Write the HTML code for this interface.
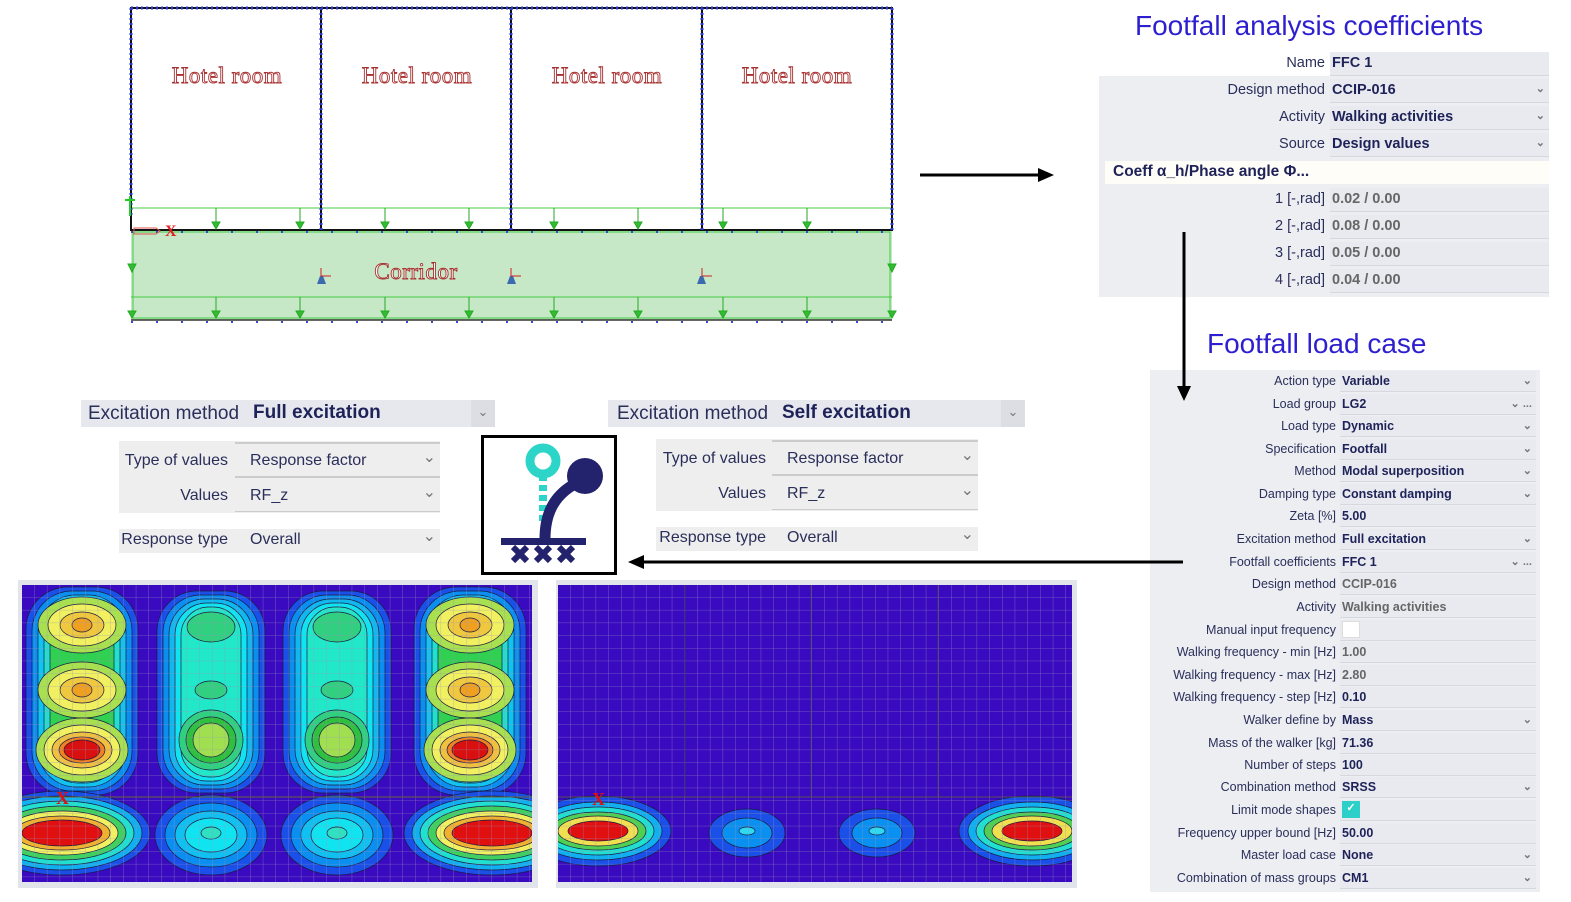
<!DOCTYPE html>
<html><head><meta charset="utf-8"><style>
*{margin:0;padding:0;box-sizing:border-box}
body{width:1571px;height:902px;background:#fff;position:relative;overflow:hidden;font-family:"Liberation Sans",sans-serif}
.a{position:absolute}
.t{position:absolute;font-family:"Liberation Sans",sans-serif;color:#2d1fd0;font-size:28px;white-space:nowrap}
.p{position:absolute;background:#eceef2}
.row{position:absolute;left:0;right:0;font-size:14.5px;color:#2a2f5a;white-space:nowrap}
.row .l{position:absolute;text-align:right}
.row .v{position:absolute;font-weight:bold;color:#1e2258;border-bottom:1px solid #d6d8de;background:#e8eaef}
.g{color:#666 !important}
.chev{position:absolute;right:4px;color:#777;font-size:11px}
.ex{position:absolute;background:#e6e8ee;font-size:19px;color:#2a2f5a;white-space:nowrap}
.sb{position:absolute;background:#eeeeee;font-size:16px;color:#2a2f5a;white-space:nowrap}
</style></head><body>

<!-- plan -->
<svg class="a" style="left:0;top:0" width="900" height="330">
<rect x="131" y="230" width="761" height="90" fill="#c6e8c6"/>
<rect x="131" y="208" width="761" height="22" fill="none" stroke="#44cc44" stroke-width="1"/>
<line x1="131" y1="297" x2="892" y2="297" stroke="#44cc44"/>
<rect x="133" y="232" width="757" height="86" fill="none" stroke="#44cc44"/>
<g stroke="#111" stroke-width="2" fill="none">
<rect x="131" y="8" width="761" height="222"/>
<line x1="321" y1="8" x2="321" y2="230"/><line x1="511" y1="8" x2="511" y2="230"/><line x1="702" y1="8" x2="702" y2="230"/>
<line x1="131" y1="320" x2="892" y2="320" stroke="#333" stroke-width="1.5"/>
</g>
<g stroke="#2a3ad0" stroke-width="3" stroke-dasharray="2 3" fill="none">
<line x1="131" y1="8" x2="892" y2="8"/><line x1="131" y1="8" x2="131" y2="215"/><line x1="321" y1="8" x2="321" y2="230"/><line x1="511" y1="8" x2="511" y2="230"/><line x1="702" y1="8" x2="702" y2="230"/><line x1="892" y1="8" x2="892" y2="230"/>
</g>
<g stroke="#3a4ad0" stroke-width="2" stroke-dasharray="2 23" fill="none"><line x1="131" y1="232" x2="892" y2="232"/><line x1="131" y1="322" x2="892" y2="322"/></g>
<g stroke="#22aa22" fill="#33bb33">
<line x1="216" y1="208" x2="216" y2="224"/><polygon points="212,222 220,222 216,229"/>
<line x1="300" y1="208" x2="300" y2="224"/><polygon points="296,222 304,222 300,229"/>
<line x1="385" y1="208" x2="385" y2="224"/><polygon points="381,222 389,222 385,229"/>
<line x1="469" y1="208" x2="469" y2="224"/><polygon points="465,222 473,222 469,229"/>
<line x1="554" y1="208" x2="554" y2="224"/><polygon points="550,222 558,222 554,229"/>
<line x1="638" y1="208" x2="638" y2="224"/><polygon points="634,222 642,222 638,229"/>
<line x1="723" y1="208" x2="723" y2="224"/><polygon points="719,222 727,222 723,229"/>
<line x1="807" y1="208" x2="807" y2="224"/><polygon points="803,222 811,222 807,229"/>
<line x1="216" y1="297" x2="216" y2="313"/><polygon points="212,311 220,311 216,318"/>
<line x1="300" y1="297" x2="300" y2="313"/><polygon points="296,311 304,311 300,318"/>
<line x1="385" y1="297" x2="385" y2="313"/><polygon points="381,311 389,311 385,318"/>
<line x1="469" y1="297" x2="469" y2="313"/><polygon points="465,311 473,311 469,318"/>
<line x1="554" y1="297" x2="554" y2="313"/><polygon points="550,311 558,311 554,318"/>
<line x1="638" y1="297" x2="638" y2="313"/><polygon points="634,311 642,311 638,318"/>
<line x1="723" y1="297" x2="723" y2="313"/><polygon points="719,311 727,311 723,318"/>
<line x1="807" y1="297" x2="807" y2="313"/><polygon points="803,311 811,311 807,318"/>
<polygon points="128,264 136,264 132,272"/><polygon points="888,264 896,264 892,272"/>
<polygon points="128,311 136,311 132,318"/><polygon points="888,311 896,311 892,318"/>
</g>
<path d="M125 200 h10 M130 196 v20" stroke="#22cc22" stroke-width="2"/>
<path d="M134 228 h22 l4 3 -4 3 h-22z" fill="none" stroke="#e05050"/>
<text x="165" y="236" fill="#e02020" font-family="Liberation Serif" font-weight="bold" font-size="16">X</text>
<g fill="#3a6ab0"><path d="M317 284 l3 -8 h3 l3 8z"/><path d="M507 284 l3 -8 h3 l3 8z"/><path d="M697 284 l3 -8 h3 l3 8z"/></g>
<g stroke="#d02020"><path d="M321 276 v-8 M321 276 h10"/><path d="M511 276 v-8 M511 276 h10"/><path d="M702 276 v-8 M702 276 h10"/></g>
<g font-family="Liberation Serif" font-size="23" fill="#fff" stroke="#a83232" stroke-width="0.9" text-anchor="middle" letter-spacing="0.5">
<text x="227" y="83">Hotel room</text><text x="417" y="83">Hotel room</text><text x="607" y="83">Hotel room</text><text x="797" y="83">Hotel room</text>
<text x="416" y="279">Corridor</text></g>
</svg>

<div class="t" style="left:1135px;top:10px">Footfall analysis coefficients</div>
<div class="t" style="left:1207px;top:328px">Footfall load case</div>

<!-- panel 1 -->
<div class="p" style="left:1099px;top:52px;width:450px;height:245px">
<div class="a" style="left:0;top:0;width:231px;height:24px;background:#fff"></div>
<div class="row" style="top:0;height:24px"><span class="l" style="right:224px;top:3px">Name</span><span class="v" style="left:231px;width:219px;height:24px;padding:3px 2px">FFC 1</span></div>
<div class="row" style="top:27px;height:24px"><span class="l" style="right:224px;top:3px">Design method</span><span class="v" style="left:231px;width:219px;height:24px;padding:3px 2px">CCIP-016<span class="chev">&#8964;</span></span></div>
<div class="row" style="top:54px;height:24px"><span class="l" style="right:224px;top:3px">Activity</span><span class="v" style="left:231px;width:219px;height:24px;padding:3px 2px">Walking activities<span class="chev">&#8964;</span></span></div>
<div class="row" style="top:81px;height:24px"><span class="l" style="right:224px;top:3px">Source</span><span class="v" style="left:231px;width:219px;height:24px;padding:3px 2px">Design values<span class="chev">&#8964;</span></span></div>
<div class="a" style="left:6px;top:109px;width:444px;height:23px;background:#fffdf8;font-weight:bold;font-size:15.5px;color:#1e2258;padding:2px 8px">Coeff α_h/Phase angle Φ...</div>
<div class="row" style="top:136px;height:24px"><span class="l" style="right:224px;top:3px">1 [-,rad]</span><span class="v g" style="left:231px;width:219px;height:24px;padding:3px 2px">0.02 / 0.00</span></div>
<div class="row" style="top:163px;height:24px"><span class="l" style="right:224px;top:3px">2 [-,rad]</span><span class="v g" style="left:231px;width:219px;height:24px;padding:3px 2px">0.08 / 0.00</span></div>
<div class="row" style="top:190px;height:24px"><span class="l" style="right:224px;top:3px">3 [-,rad]</span><span class="v g" style="left:231px;width:219px;height:24px;padding:3px 2px">0.05 / 0.00</span></div>
<div class="row" style="top:217px;height:24px"><span class="l" style="right:224px;top:3px">4 [-,rad]</span><span class="v g" style="left:231px;width:219px;height:24px;padding:3px 2px">0.04 / 0.00</span></div>
</div>

<!-- panel 2 -->
<div class="p" id="p2" style="left:1150px;top:370px;width:390px;height:522px;font-size:12.5px">
<style>#p2 .row{font-size:12.5px;height:21px}#p2 .l{right:204px;top:3px}#p2 .v{left:190px;width:196px;height:21px;padding:3px 2px}</style>
<div class="row" style="top:1px"><span class="l">Action type</span><span class="v">Variable<span class="chev">&#8964;</span></span></div>
<div class="row" style="top:24px"><span class="l">Load group</span><span class="v">LG2<span class="chev">&#8964; ...</span></span></div>
<div class="row" style="top:46px"><span class="l">Load type</span><span class="v">Dynamic<span class="chev">&#8964;</span></span></div>
<div class="row" style="top:69px"><span class="l">Specification</span><span class="v">Footfall<span class="chev">&#8964;</span></span></div>
<div class="row" style="top:91px"><span class="l">Method</span><span class="v">Modal superposition<span class="chev">&#8964;</span></span></div>
<div class="row" style="top:114px"><span class="l">Damping type</span><span class="v">Constant damping<span class="chev">&#8964;</span></span></div>
<div class="row" style="top:136px"><span class="l">Zeta [%]</span><span class="v">5.00</span></div>
<div class="row" style="top:159px"><span class="l">Excitation method</span><span class="v">Full excitation<span class="chev">&#8964;</span></span></div>
<div class="row" style="top:182px"><span class="l">Footfall coefficients</span><span class="v">FFC 1<span class="chev">&#8964; ...</span></span></div>
<div class="row" style="top:204px"><span class="l">Design method</span><span class="v g">CCIP-016</span></div>
<div class="row" style="top:227px"><span class="l">Activity</span><span class="v g">Walking activities</span></div>
<div class="row" style="top:250px"><span class="l">Manual input frequency</span><span class="v"><span class="a" style="left:2px;top:1px;width:18px;height:17px;background:#fff;border:1px solid #ddd"></span></span></div>
<div class="row" style="top:272px"><span class="l">Walking frequency - min [Hz]</span><span class="v g">1.00</span></div>
<div class="row" style="top:295px"><span class="l">Walking frequency - max [Hz]</span><span class="v g">2.80</span></div>
<div class="row" style="top:317px"><span class="l">Walking frequency - step [Hz]</span><span class="v">0.10</span></div>
<div class="row" style="top:340px"><span class="l">Walker define by</span><span class="v">Mass<span class="chev">&#8964;</span></span></div>
<div class="row" style="top:363px"><span class="l">Mass of the walker [kg]</span><span class="v">71.36</span></div>
<div class="row" style="top:385px"><span class="l">Number of steps</span><span class="v">100</span></div>
<div class="row" style="top:407px"><span class="l">Combination method</span><span class="v">SRSS<span class="chev">&#8964;</span></span></div>
<div class="row" style="top:430px"><span class="l">Limit mode shapes</span><span class="v"><span class="a" style="left:2px;top:1px;width:18px;height:17px;background:#2dd0c8;color:#fff;font-size:11px;text-align:center">✓</span></span></div>
<div class="row" style="top:453px"><span class="l">Frequency upper bound [Hz]</span><span class="v">50.00</span></div>
<div class="row" style="top:475px"><span class="l">Master load case</span><span class="v">None<span class="chev">&#8964;</span></span></div>
<div class="row" style="top:498px"><span class="l">Combination of mass groups</span><span class="v">CM1<span class="chev">&#8964;</span></span></div>
</div>

<!-- arrows (on top) -->
<svg class="a" style="left:0;top:0;z-index:5" width="1571" height="902">
<line x1="920" y1="175" x2="1040" y2="175" stroke="#000" stroke-width="3"/><polygon points="1038,168 1054,175 1038,182"/>
<line x1="1184" y1="232" x2="1184" y2="388" stroke="#000" stroke-width="3"/><polygon points="1177,386 1191,386 1184,401"/>
<line x1="1183" y1="562" x2="642" y2="562" stroke="#000" stroke-width="3"/><polygon points="644,555 628,562 644,569"/>
</svg>

<!-- excitation panels -->
<div class="ex" style="left:81px;top:400px;width:414px;height:27px"><span class="a" style="left:7px;top:3px">Excitation method</span><b class="a" style="left:172px;top:2px;color:#1e2258">Full excitation</b><span class="a" style="right:0;top:0;width:24px;height:27px;background:#dcdee4;color:#777;font-size:13px;text-align:center;line-height:24px">&#8964;</span></div>
<div class="sb" style="left:119px;top:441px;width:321px;height:72px"><span class="a" style="right:212px;top:11px">Type of values</span><span class="a" style="left:131px;top:11px">Response factor</span><span class="a" style="left:116px;top:1px;width:205px;border-top:2px solid #ccc"></span><span class="a" style="left:116px;top:35px;width:205px;border-top:2px solid #ccc"></span><span class="a" style="left:116px;top:70px;width:205px;border-top:1px solid #ccc"></span><span class="a" style="right:212px;top:46px">Values</span><span class="a" style="left:131px;top:46px">RF_z</span><span class="a" style="right:4px;top:6px;color:#777">&#8964;</span><span class="a" style="right:4px;top:41px;color:#777">&#8964;</span></div>
<div class="sb" style="left:119px;top:529px;width:321px;height:24px"><span class="a" style="right:212px;top:2px">Response type</span><span class="a" style="left:131px;top:2px">Overall</span><span class="a" style="right:4px;top:-3px;color:#777">&#8964;</span></div>

<div class="ex" style="left:608px;top:400px;width:417px;height:27px"><span class="a" style="left:9px;top:3px">Excitation method</span><b class="a" style="left:174px;top:2px;color:#1e2258">Self excitation</b><span class="a" style="right:0;top:0;width:24px;height:27px;background:#dcdee4;color:#777;font-size:13px;text-align:center;line-height:24px">&#8964;</span></div>
<div class="sb" style="left:656px;top:439px;width:322px;height:72px"><span class="a" style="right:212px;top:11px">Type of values</span><span class="a" style="left:131px;top:11px">Response factor</span><span class="a" style="left:116px;top:1px;width:206px;border-top:2px solid #ccc"></span><span class="a" style="left:116px;top:35px;width:206px;border-top:2px solid #ccc"></span><span class="a" style="left:116px;top:70px;width:206px;border-top:1px solid #ccc"></span><span class="a" style="right:212px;top:46px">Values</span><span class="a" style="left:131px;top:46px">RF_z</span><span class="a" style="right:4px;top:6px;color:#777">&#8964;</span><span class="a" style="right:4px;top:41px;color:#777">&#8964;</span></div>
<div class="sb" style="left:656px;top:527px;width:322px;height:24px"><span class="a" style="right:212px;top:2px">Response type</span><span class="a" style="left:131px;top:2px">Overall</span><span class="a" style="right:4px;top:-3px;color:#777">&#8964;</span></div>

<!-- icon -->
<svg class="a" style="left:481px;top:435px" width="136" height="140">
<rect x="1.5" y="1.5" width="133" height="137" fill="#fff" stroke="#000" stroke-width="3"/>
<circle cx="62" cy="26" r="13" fill="none" stroke="#2dd4c8" stroke-width="9"/>
<rect x="58" y="41" width="8" height="5" fill="#2dd4c8"/><rect x="58" y="50" width="8" height="6" fill="#2dd4c8"/><rect x="58" y="60" width="8" height="6" fill="#2dd4c8"/><rect x="58" y="70" width="8" height="6" fill="#2dd4c8"/><rect x="58" y="80" width="8" height="6" fill="#2dd4c8"/>
<circle cx="104" cy="41" r="18" fill="#23226c"/>
<path d="M64 104 C64 80 72 62 92 50" fill="none" stroke="#23226c" stroke-width="11"/>
<rect x="20" y="103" width="85" height="7" fill="#23226c"/>
<g stroke="#23226c" stroke-width="6"><path d="M32 112 l14 14 M46 112 l-14 14 M55 112 l14 14 M69 112 l-14 14 M78 112 l14 14 M92 112 l-14 14"/></g>
</svg>

<!-- left contour -->
<div class="a" style="left:18px;top:580px;width:520px;height:308px;background:#e2e4ec"></div>
<svg class="a" style="left:22px;top:585px" width="510" height="297">
<defs>
<pattern id="gr" width="12.7" height="12.7" patternUnits="userSpaceOnUse"><path d="M12.7 0V12.7H0" fill="none" stroke="#9a94b8" stroke-width="0.8" opacity="0.7"/></pattern>
<clipPath id="c1"><rect width="510" height="297"/></clipPath>
</defs>
<g clip-path="url(#c1)" stroke="#1a1a40" stroke-width="0.7">
<rect width="510" height="297" fill="#3a0ac0" stroke="none"/>
<g id="ec">
<rect x="4" y="2" width="112" height="208" rx="42" fill="#1a50e8"/>
<rect x="10" y="6" width="100" height="200" rx="40" fill="#0a8ef0"/>
<rect x="16" y="10" width="88" height="192" rx="38" fill="#10c4f0"/>
<rect x="22" y="14" width="76" height="184" rx="34" fill="#20e0d0"/>
<rect x="28" y="18" width="64" height="176" rx="30" fill="#30d050"/>
<ellipse cx="60" cy="40" rx="44" ry="28" fill="#a8e050"/><ellipse cx="60" cy="40" rx="34" ry="21" fill="#f0f060"/><ellipse cx="60" cy="40" rx="22" ry="13" fill="#f0c840"/><ellipse cx="60" cy="40" rx="10" ry="7" fill="#f0a020"/>
<ellipse cx="60" cy="105" rx="44" ry="28" fill="#a8e050"/><ellipse cx="60" cy="105" rx="34" ry="21" fill="#f0f060"/><ellipse cx="60" cy="105" rx="22" ry="13" fill="#f0c840"/><ellipse cx="60" cy="105" rx="10" ry="7" fill="#f0a020"/>
<ellipse cx="60" cy="165" rx="46" ry="32" fill="#a8e050"/><ellipse cx="60" cy="165" rx="38" ry="25" fill="#f0f060"/><ellipse cx="60" cy="165" rx="30" ry="18" fill="#f0c040"/><ellipse cx="60" cy="165" rx="23" ry="13" fill="#f08020"/><ellipse cx="60" cy="165" rx="18" ry="10" fill="#d81010"/>
</g>
<use href="#ec" transform="translate(388,0)"/>
<g id="mc">
<rect x="135" y="6" width="108" height="202" rx="40" fill="#1a50e8"/>
<rect x="141" y="10" width="96" height="194" rx="38" fill="#0a8ef0"/>
<rect x="147" y="14" width="84" height="186" rx="36" fill="#10b8f0"/>
<rect x="153" y="18" width="72" height="178" rx="32" fill="#10e4f0"/>
<rect x="159" y="22" width="60" height="170" rx="28" fill="#20e8c8"/>
<ellipse cx="189" cy="42" rx="24" ry="15" fill="#30d080"/>
<ellipse cx="189" cy="105" rx="16" ry="9" fill="#30d080"/>
<ellipse cx="189" cy="155" rx="32" ry="30" fill="#30d080"/><ellipse cx="189" cy="155" rx="25" ry="23" fill="#30c040"/><ellipse cx="189" cy="155" rx="18" ry="17" fill="#a0e050"/>
</g>
<use href="#mc" transform="translate(126,0)"/>
<ellipse cx="40" cy="248" rx="88" ry="42" fill="#1a50e8"/><ellipse cx="40" cy="248" rx="80" ry="37" fill="#10b0f0"/><ellipse cx="40" cy="248" rx="72" ry="32" fill="#20e0d0"/><ellipse cx="40" cy="248" rx="64" ry="27" fill="#40d060"/><ellipse cx="40" cy="248" rx="56" ry="22" fill="#f0f060"/><ellipse cx="40" cy="248" rx="48" ry="17" fill="#f0b030"/><ellipse cx="40" cy="248" rx="40" ry="13" fill="#e01010"/>
<ellipse cx="470" cy="248" rx="88" ry="42" fill="#1a50e8"/><ellipse cx="470" cy="248" rx="80" ry="37" fill="#10b0f0"/><ellipse cx="470" cy="248" rx="72" ry="32" fill="#20e0d0"/><ellipse cx="470" cy="248" rx="64" ry="27" fill="#40d060"/><ellipse cx="470" cy="248" rx="56" ry="22" fill="#f0f060"/><ellipse cx="470" cy="248" rx="48" ry="17" fill="#f0b030"/><ellipse cx="470" cy="248" rx="40" ry="13" fill="#e01010"/>
<g id="mk"><ellipse cx="189" cy="250" rx="56" ry="40" fill="#1a50e8"/><ellipse cx="189" cy="250" rx="46" ry="32" fill="#0a8ef0"/><ellipse cx="189" cy="250" rx="36" ry="24" fill="#10c0f0"/><ellipse cx="189" cy="250" rx="26" ry="17" fill="#10e4f0"/><ellipse cx="189" cy="248" rx="10" ry="6" fill="#30e0c0"/></g>
<use href="#mk" transform="translate(126,0)"/>
<rect width="510" height="297" fill="url(#gr)" stroke="none"/>
<line x1="0" y1="212" x2="510" y2="212" stroke="#663" stroke-width="1"/>
</g>
<text x="34" y="219" fill="#e01010" font-family="Liberation Serif" font-weight="bold" font-size="18">X</text>
</svg>

<!-- right contour -->
<div class="a" style="left:556px;top:580px;width:521px;height:308px;background:#e2e4ec"></div>
<svg class="a" style="left:558px;top:585px" width="514" height="297">
<defs><clipPath id="c2"><rect width="514" height="297"/></clipPath>
<pattern id="gr2" width="12.7" height="12.7" patternUnits="userSpaceOnUse"><path d="M12.7 0V12.7H0" fill="none" stroke="#9a94b8" stroke-width="0.8" opacity="0.7"/></pattern></defs>
<g clip-path="url(#c2)" stroke="#1a1a40" stroke-width="0.7">
<rect width="514" height="297" fill="#3a0ac0" stroke="none"/>
<ellipse cx="40" cy="246" rx="73" ry="35" fill="#1a50e8"/><ellipse cx="40" cy="246" rx="64" ry="29" fill="#10b0f0"/><ellipse cx="40" cy="246" rx="56" ry="24" fill="#20e0d0"/><ellipse cx="40" cy="246" rx="48" ry="19" fill="#50d050"/><ellipse cx="40" cy="246" rx="40" ry="15" fill="#f0e050"/><ellipse cx="40" cy="246" rx="30" ry="10" fill="#e01010"/>
<ellipse cx="474" cy="246" rx="73" ry="35" fill="#1a50e8"/><ellipse cx="474" cy="246" rx="64" ry="29" fill="#10b0f0"/><ellipse cx="474" cy="246" rx="56" ry="24" fill="#20e0d0"/><ellipse cx="474" cy="246" rx="48" ry="19" fill="#50d050"/><ellipse cx="474" cy="246" rx="40" ry="15" fill="#f0e050"/><ellipse cx="474" cy="246" rx="30" ry="10" fill="#e01010"/>
<ellipse cx="189" cy="248" rx="38" ry="24" fill="#1a50e8"/><ellipse cx="189" cy="248" rx="25" ry="15" fill="#0a90f0"/><ellipse cx="189" cy="246" rx="8" ry="4" fill="#30d8f0"/>
<ellipse cx="319" cy="248" rx="38" ry="24" fill="#1a50e8"/><ellipse cx="319" cy="248" rx="25" ry="15" fill="#0a90f0"/><ellipse cx="319" cy="246" rx="8" ry="4" fill="#30d8f0"/>
<rect width="514" height="297" fill="url(#gr2)" stroke="none"/>
<line x1="0" y1="212" x2="514" y2="212" stroke="#663"/>
<line x1="127" y1="0" x2="127" y2="212" stroke="#444"/><line x1="253" y1="0" x2="253" y2="212" stroke="#444"/><line x1="380" y1="0" x2="380" y2="212" stroke="#444"/>
</g>
<text x="34" y="220" fill="#e01010" font-family="Liberation Serif" font-weight="bold" font-size="18">X</text>
</svg>
</body></html>
